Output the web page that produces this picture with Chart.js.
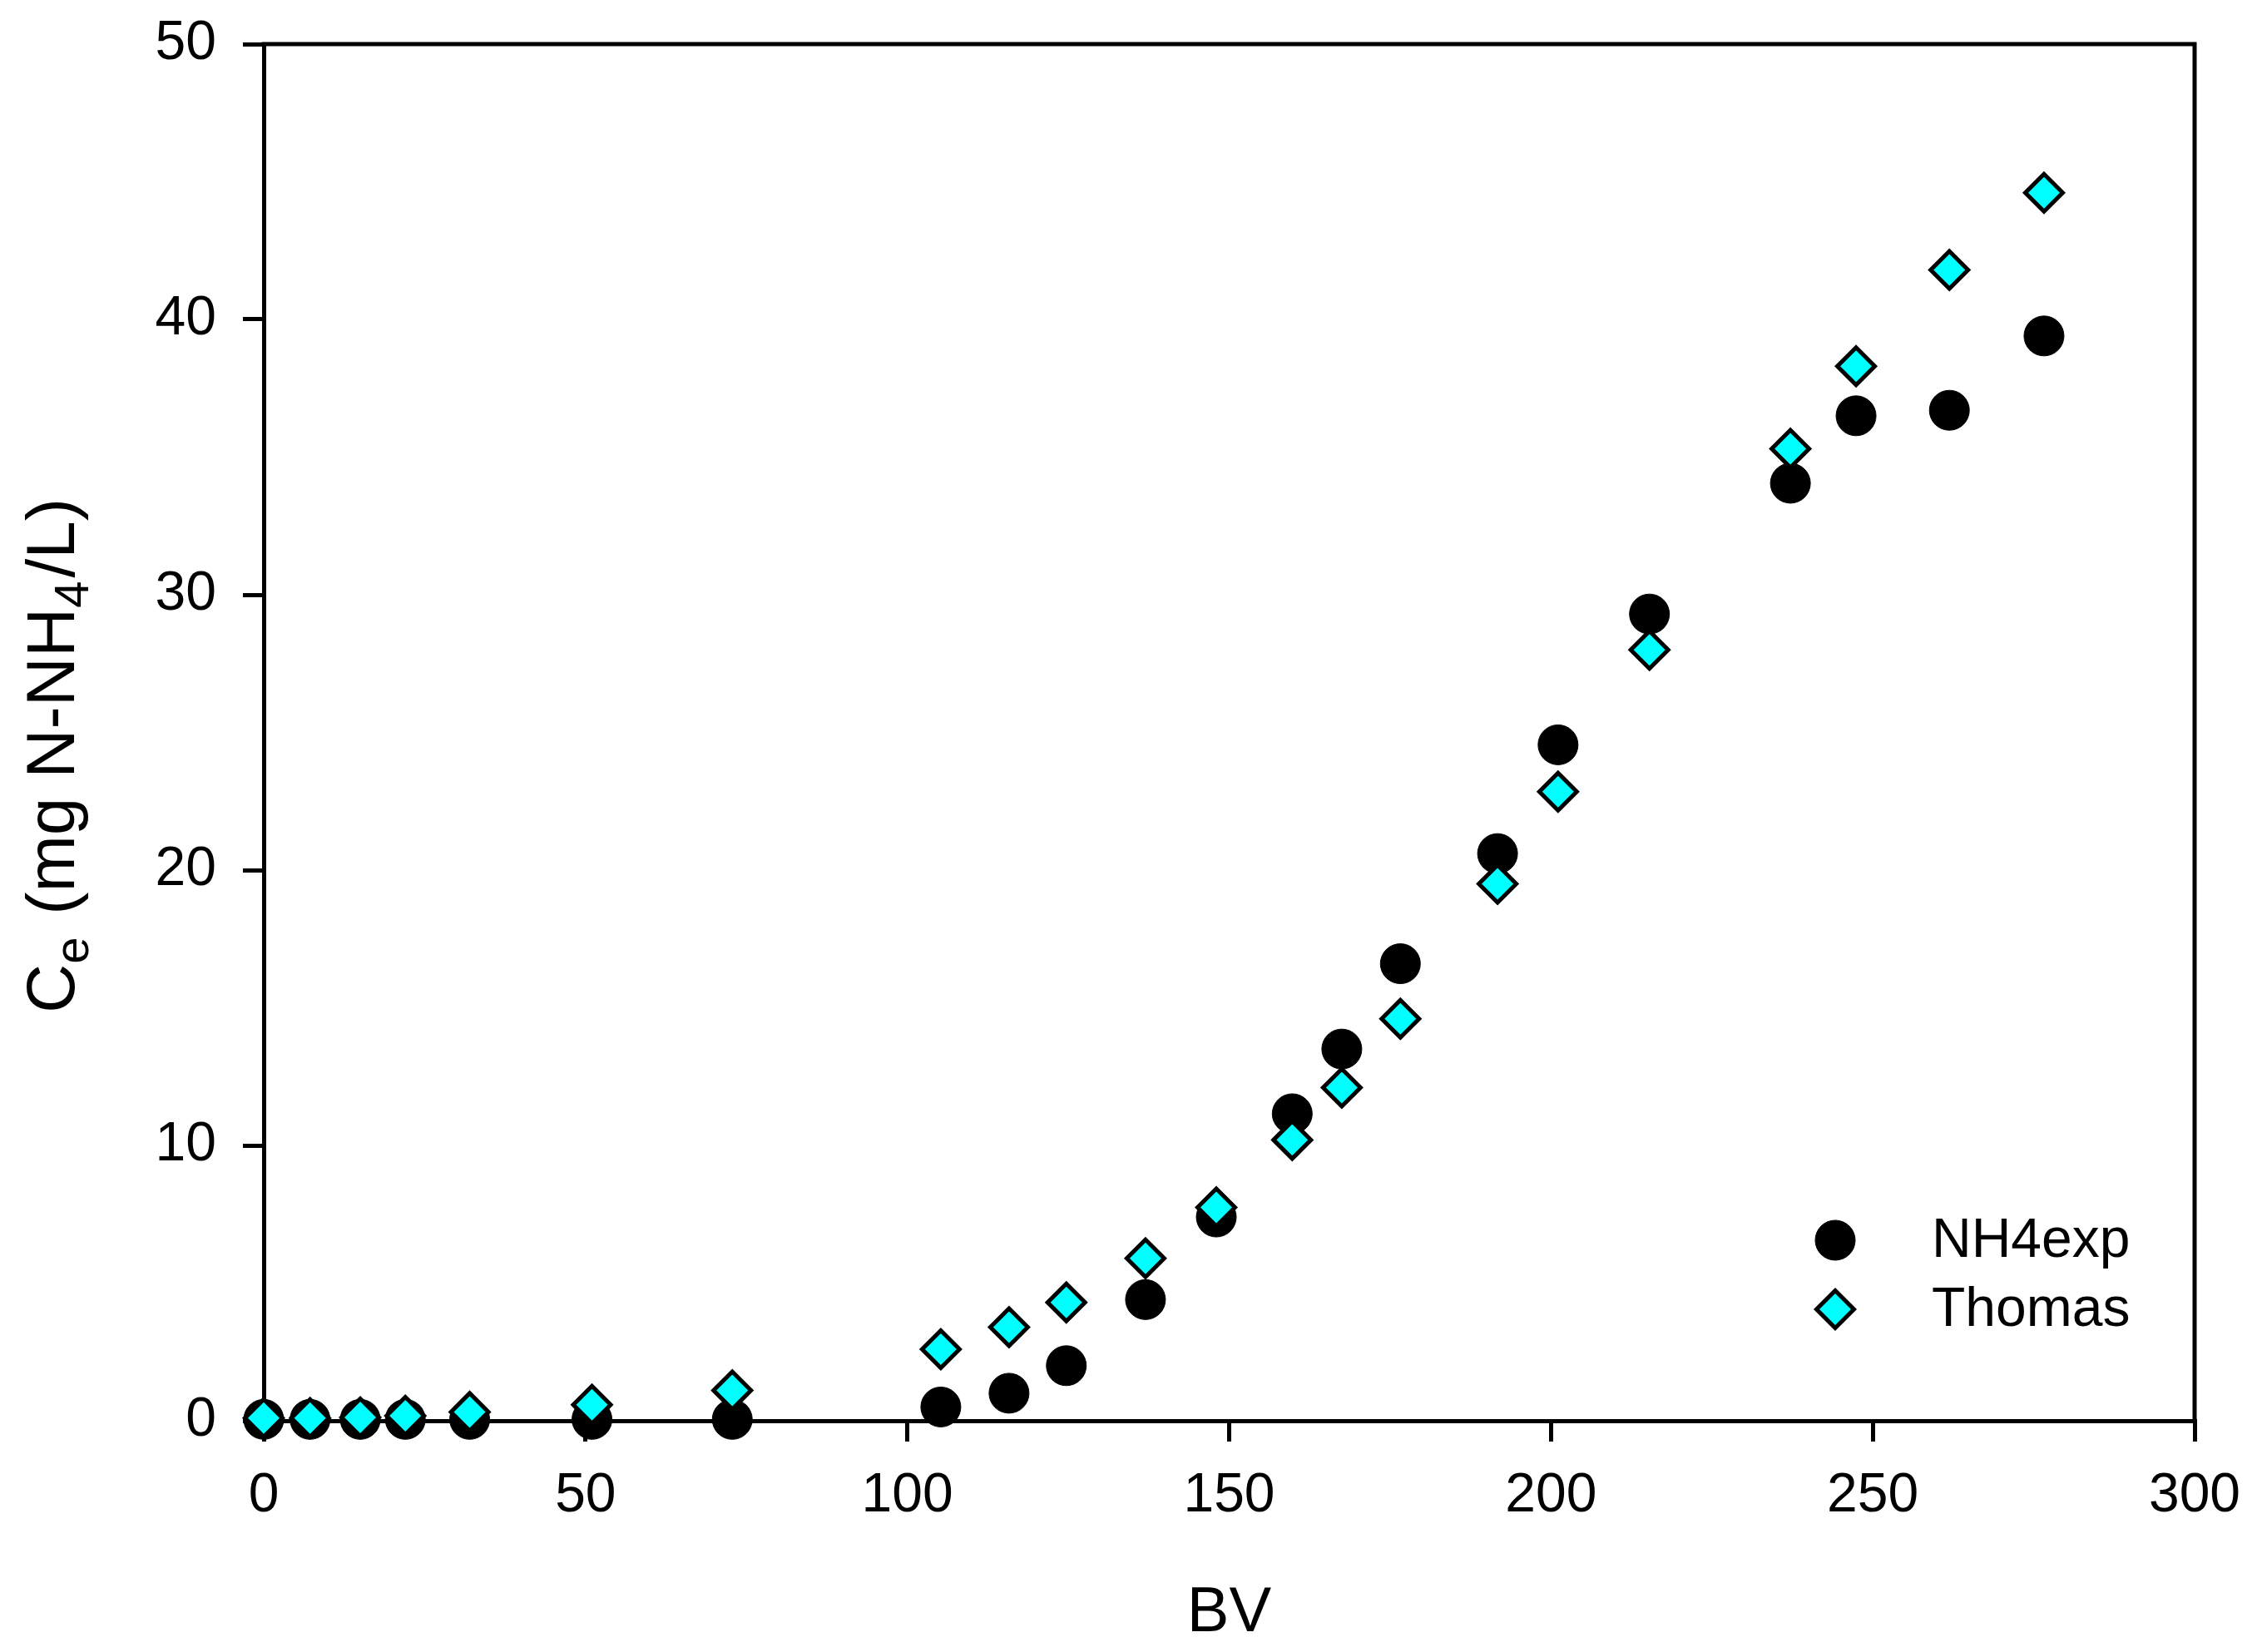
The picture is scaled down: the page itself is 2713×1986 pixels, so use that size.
<!DOCTYPE html>
<html>
<head>
<meta charset="utf-8">
<script src="https://cdn.jsdelivr.net/npm/chart.js@4.4.0/dist/chart.umd.min.js"></script>
<style>
  body { margin: 0; background: #fff; }
  canvas { display: block; }
</style>
</head>
<body>
<canvas id="myChart" width="2713" height="1986"></canvas>
<script>
// bed volumes
var bv = [0, 7.2, 15, 22, 32, 51, 72.8, 105.2, 115.8, 124.7, 137, 148, 159.8, 167.5, 176.6, 191.7, 201.1, 215.3, 237.2, 247.4, 261.9, 276.6];
// measured effluent NH4
var nh4exp = [0.05, 0.05, 0.05, 0.05, 0.05, 0.05, 0.05, 0.5, 1.0, 2.0, 4.4, 7.4, 11.15, 13.5, 16.6, 20.6, 24.55, 29.3, 34.05, 36.5, 36.7, 39.4];
// Thomas model
var thomas = [0.1, 0.1, 0.12, 0.18, 0.32, 0.58, 1.1, 2.6, 3.4, 4.3, 5.9, 7.75, 10.2, 12.1, 14.6, 19.5, 22.85, 28.0, 35.3, 38.3, 41.8, 44.6];

var xTicks = [0, 50, 100, 150, 200, 250, 300];
var yTicks = [0, 10, 20, 30, 40, 50];

var fonte = '"Liberation Sans", Arial, sans-serif';

function pontos(ys) {
    var out = [];
    for (var i = 0; i < bv.length; i++) {
        out.push({ x: bv[i], y: ys[i] });
    }
    return out;
}

// frame lines on top and right
var molduraPlugin = {
    id: 'moldura',
    afterDraw: function (chart) {
        var a = chart.chartArea;
        var ctx = chart.ctx;
        ctx.save();
        ctx.strokeStyle = '#000';
        ctx.lineWidth = 5;
        ctx.beginPath();
        ctx.moveTo(a.left - 2.5, a.top);
        ctx.lineTo(a.right, a.top);
        ctx.lineTo(a.right, a.bottom + 2.5);
        ctx.stroke();
        ctx.restore();
    }
};

// y title with subscripts
var tituloYPlugin = {
    id: 'tituloY',
    afterDraw: function (chart) {
        var a = chart.chartArea;
        var ctx = chart.ctx;
        var partes = [
            { t: 'C', sub: false },
            { t: 'e', sub: true },
            { t: ' (mg N-NH', sub: false },
            { t: '4', sub: true },
            { t: '/L)', sub: false }
        ];
        var big = '82px ' + fonte;
        var small = '58px ' + fonte;
        ctx.save();
        var total = 0;
        partes.forEach(function (p) {
            ctx.font = p.sub ? small : big;
            p.w = ctx.measureText(p.t).width + (p.sub ? 4 : 0);
            total += p.w;
        });
        ctx.translate(89, (a.top + a.bottom) / 2 + 28);
        ctx.rotate(-Math.PI / 2);
        ctx.fillStyle = '#000';
        ctx.textBaseline = 'alphabetic';
        ctx.textAlign = 'left';
        var x = -total / 2;
        partes.forEach(function (p) {
            ctx.font = p.sub ? small : big;
            ctx.fillText(p.t, x, p.sub ? 17 : 0);
            x += p.w;
        });
        ctx.restore();
    }
};

// legend inside the plot
var legendaPlugin = {
    id: 'legenda',
    afterDraw: function (chart) {
        var a = chart.chartArea;
        var ctx = chart.ctx;
        var itens = [
            { label: 'NH4exp', style: 'circle', r: 24, fill: '#000', bw: 1, dy: -217 },
            { label: 'Thomas', style: 'rectRot', r: 22.5, fill: '#00FFFF', bw: 5, dy: -134 }
        ];
        ctx.save();
        itens.forEach(function (it) {
            var px = a.right - 432;
            var py = a.bottom + it.dy;
            ctx.fillStyle = it.fill;
            ctx.strokeStyle = '#000';
            ctx.lineWidth = it.bw;
            Chart.helpers.drawPoint(ctx, { pointStyle: it.style, radius: it.r, rotation: 0, borderWidth: it.bw }, px, py);
            ctx.font = '66px ' + fonte;
            ctx.fillStyle = '#000';
            ctx.textBaseline = 'middle';
            ctx.textAlign = 'left';
            ctx.fillText(it.label, a.right - 316, py + 2);
        });
        ctx.restore();
    }
};

var ctx = document.getElementById("myChart");
var myChart = new Chart(ctx, {
    type: 'scatter',
    data: {
        datasets: [{
            label: 'NH4exp',
            data: pontos(nh4exp),
            order: 1,
            clip: false,
            pointStyle: 'circle',
            pointRadius: 24,
            pointBackgroundColor: '#000',
            pointBorderColor: '#000',
            pointBorderWidth: 1
        }, {
            label: 'Thomas',
            data: pontos(thomas),
            order: 0,
            clip: false,
            pointStyle: 'rectRot',
            pointRadius: 22.5,
            pointBackgroundColor: '#00FFFF',
            pointBorderColor: '#000',
            pointBorderWidth: 5
        }]
    },
    options: {
        responsive: false,
        animation: false,
        devicePixelRatio: 1,
        layout: { padding: { left: 0, right: 75, top: 53, bottom: 0 } },
        plugins: {
            legend: { display: false },
            tooltip: { enabled: false }
        },
        scales: {
            x: {
                type: 'linear',
                min: 0,
                max: 300,
                afterFit: function (s) {
                    s.height = 278;
                    s.paddingLeft = 0;
                    s.paddingRight = 0;
                },
                afterBuildTicks: function (s) { s.ticks = xTicks.map(function (v) { return { value: v }; }); },
                ticks: { color: '#000', font: { family: fonte, size: 66 }, padding: 26, maxRotation: 0 },
                grid: { drawOnChartArea: false, drawTicks: true, tickLength: 25, lineWidth: 5, tickWidth: 5, tickColor: '#000' },
                border: { display: true, color: '#000', width: 5 },
                title: { display: true, text: 'BV', color: '#000', font: { family: fonte, size: 76 }, padding: { top: 0, bottom: 0 } }
            },
            y: {
                type: 'linear',
                min: 0,
                max: 50,
                afterFit: function (s) {
                    s.width = 317;
                    s.paddingTop = 0;
                    s.paddingBottom = 0;
                },
                afterBuildTicks: function (s) { s.ticks = yTicks.map(function (v) { return { value: v }; }); },
                ticks: { color: '#000', font: { family: fonte, size: 66 }, padding: 32 },
                grid: { drawOnChartArea: false, drawTicks: true, tickLength: 25, lineWidth: 5, tickWidth: 5, tickColor: '#000' },
                border: { display: true, color: '#000', width: 5 }
            }
        }
    },
    plugins: [molduraPlugin, tituloYPlugin, legendaPlugin]
});
</script>
</body>
</html>
